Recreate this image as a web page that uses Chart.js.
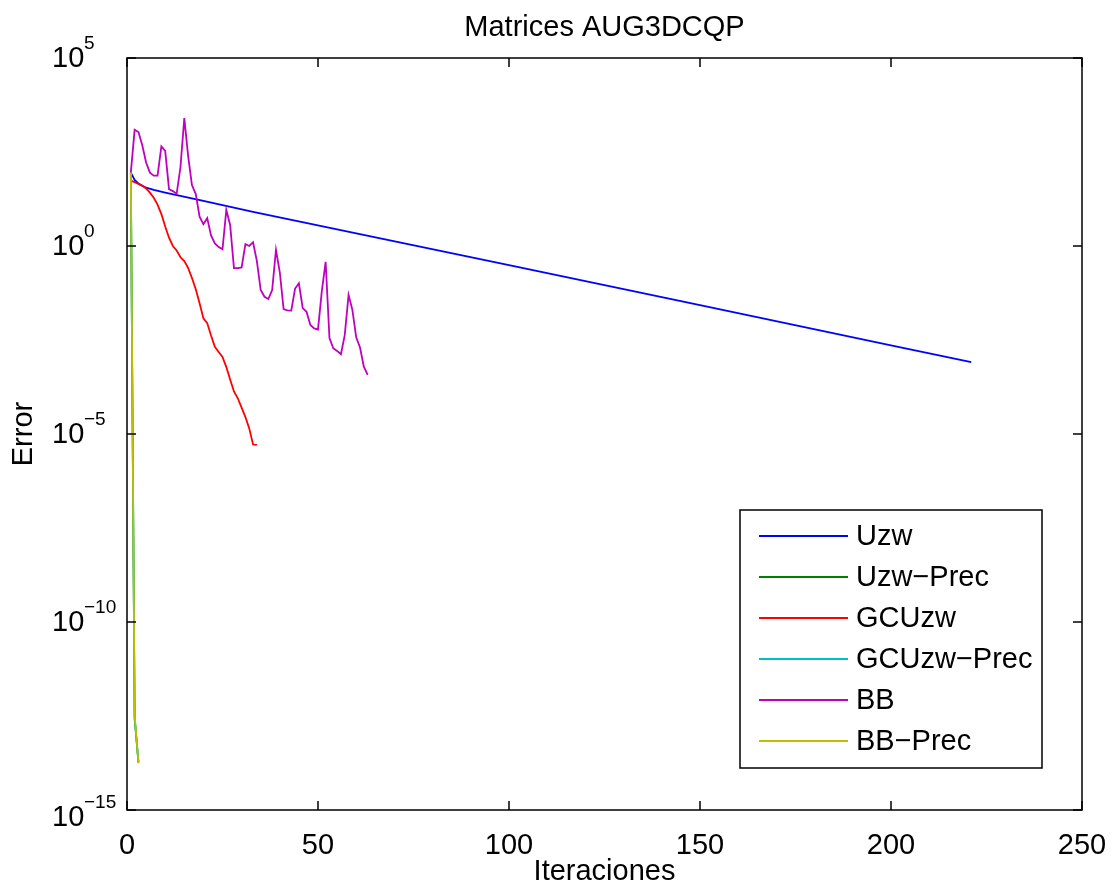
<!DOCTYPE html>
<html>
<head>
<meta charset="utf-8">
<title>Matrices AUG3DCQP</title>
<script src="https://cdn.jsdelivr.net/npm/chart.js@4.4.1/dist/chart.umd.min.js"></script>
<style>
  html, body { margin: 0; padding: 0; background: #fff; }
  #wrap { width: 1112px; height: 890px; }
</style>
</head>
<body>
<div id="wrap"><canvas id="chart" width="1112" height="890"></canvas></div>
<script>
// error per iteration for each solver
const uzwIter = [1, 2, 3, 5, 7, 10, 20, 33, 66, 100, 150, 200, 221];
const uzwErr = [89.1, 57.5, 45.7, 35.5, 30.9, 26.3, 15.8, 8.13, 1.62, 0.309, 0.0269, 2.29e-3, 8.13e-4];

const precIter = [1, 2, 3];
const uzwPrecErr = [89.1, 2.6e-13, 1.9e-14];
const gcPrecErr = [89.1, 3.0e-13, 1.8e-14];
const bbPrecErr = [89.1, 3.4e-13, 1.75e-14];

const gcIter = [1, 2, 3, 4, 5, 6, 7, 8, 9, 10, 11, 12, 13, 14, 15, 16, 17,
  18, 19, 20, 21, 22, 23, 24, 25, 26, 27, 28, 29, 30, 31, 32, 33, 34];
const gcErr = [55.0, 50.1, 44.7, 39.8, 33.9, 26.3, 19.1, 12.6, 7.08, 3.31, 1.66,
  1.0, 0.759, 0.501, 0.398, 0.263, 0.141, 0.0708, 0.0302, 0.0120, 8.91e-3,
  4.17e-3, 2.09e-3, 1.51e-3, 1.12e-3, 6.03e-4, 2.82e-4, 1.35e-4, 8.91e-5,
  5.01e-5, 2.82e-5, 1.41e-5, 5.25e-6, 5.13e-6];

const bbIter = [1, 2, 3, 4, 5, 6, 7, 8, 9, 10, 11, 12, 13, 14, 15, 16, 17, 18,
  19, 20, 21, 22, 23, 24, 25, 26, 27, 28, 29, 30, 31, 32, 33, 34, 35, 36, 37,
  38, 39, 40, 41, 42, 43, 44, 45, 46, 47, 48, 49, 50, 51, 52, 53, 54, 55, 56,
  57, 58, 59, 60, 61, 62, 63];
const bbErr = [89.1, 1230, 1072, 479, 166, 89.1, 74.1, 74.1, 447, 339, 32.4,
  28.8, 24.5, 126, 2512, 251, 41.7, 24.0, 6.03, 3.80, 5.50, 1.91, 1.17, 0.933,
  0.813, 9.12, 3.63, 0.257, 0.257, 0.269, 1.12, 1.0, 1.26, 0.398, 0.0676,
  0.0447, 0.0389, 0.0676, 0.794, 0.200, 0.0209, 0.0195, 0.0191, 0.0741, 0.102,
  0.0224, 0.0178, 7.94e-3, 6.46e-3, 6.03e-3, 0.0631, 0.380, 3.55e-3, 1.91e-3,
  1.62e-3, 1.32e-3, 4.27e-3, 0.0501, 0.0200, 3.72e-3, 2.00e-3, 6.17e-4, 3.72e-4];

const seriesNames = ['Uzw', 'Uzw\u2212Prec', 'GCUzw', 'GCUzw\u2212Prec', 'BB', 'BB\u2212Prec'];
const seriesColors = ['#0000ff', '#008000', '#ff0000', '#00bfbf', '#bf00bf', '#bfbf00'];
const seriesIters = [uzwIter, precIter, gcIter, precIter, bbIter, precIter];
const seriesErrs = [uzwErr, uzwPrecErr, gcErr, gcPrecErr, bbErr, bbPrecErr];

const xTicks = [0, 50, 100, 150, 200, 250];
const yTicks = [1e5, 1, 1e-5, 1e-10, 1e-15];
const yTickExp = ['5', '0', '\u22125', '\u221210', '\u221215'];

const FONT = '"Liberation Sans", Arial, Helvetica, sans-serif';

const datasets = seriesNames.map((name, i) => ({
  label: name,
  data: seriesIters[i].map((it, k) => ({ x: it, y: seriesErrs[i][k] })),
  borderColor: seriesColors[i],
  borderWidth: 1.8,
  pointRadius: 0,
  tension: 0,
  fill: false,
  order: seriesNames.length - i   // later series painted on top
}));

// box, inward ticks, labels, titles and legend in matlab style
const frame = {
  id: 'frame',
  afterDraw(chart) {
    const { ctx, chartArea: a, scales: { x, y } } = chart;
    ctx.save();
    ctx.strokeStyle = '#000';
    ctx.lineWidth = 1.5;
    ctx.strokeRect(a.left, a.top, a.right - a.left, a.bottom - a.top);

    const tk = 9;
    ctx.beginPath();
    xTicks.forEach(v => {
      const px = x.getPixelForValue(v);
      ctx.moveTo(px, a.bottom); ctx.lineTo(px, a.bottom - tk);
      ctx.moveTo(px, a.top); ctx.lineTo(px, a.top + tk);
    });
    yTicks.forEach(v => {
      const py = y.getPixelForValue(v);
      ctx.moveTo(a.left, py); ctx.lineTo(a.left + tk, py);
      ctx.moveTo(a.right, py); ctx.lineTo(a.right - tk, py);
    });
    ctx.stroke();

    ctx.fillStyle = '#000';
    ctx.font = '29px ' + FONT;
    ctx.textAlign = 'center';
    ctx.textBaseline = 'middle';
    xTicks.forEach(v => ctx.fillText(String(v), x.getPixelForValue(v), a.bottom + 36));

    yTicks.forEach((v, i) => {
      let py = y.getPixelForValue(v);
      if (i === yTicks.length - 1) py += 7;
      ctx.font = '29px ' + FONT;
      ctx.textAlign = 'left';
      ctx.fillText('10', 52, py + 1);
      ctx.font = '19px ' + FONT;
      ctx.fillText(yTickExp[i], 84, py - 14);
    });

    ctx.font = '29px ' + FONT;
    ctx.textAlign = 'center';
    const cx = (a.left + a.right) / 2;
    ctx.fillText('Matrices AUG3DCQP', cx, 28);
    ctx.fillText('Iteraciones', cx, a.bottom + 62);
    ctx.save();
    ctx.translate(24, (a.top + a.bottom) / 2);
    ctx.rotate(-Math.PI / 2);
    ctx.fillText('Error', 0, 0);
    ctx.restore();

    // legend box, lower right inside the axes
    const lw = 302, lh = 258;
    const lx = a.right - 40 - lw, ly = a.bottom - 42 - lh;
    ctx.fillStyle = '#fff';
    ctx.fillRect(lx, ly, lw, lh);
    ctx.strokeStyle = '#000';
    ctx.lineWidth = 1.5;
    ctx.strokeRect(lx, ly, lw, lh);
    ctx.textAlign = 'left';
    seriesNames.forEach((name, i) => {
      const ry = ly + 26 + i * 41;
      ctx.strokeStyle = seriesColors[i];
      ctx.lineWidth = 1.8;
      ctx.beginPath();
      ctx.moveTo(lx + 19, ry);
      ctx.lineTo(lx + 108, ry);
      ctx.stroke();
      ctx.fillStyle = '#000';
      ctx.fillText(name, lx + 116, ry + 1);
    });
    ctx.restore();
  }
};

new Chart(document.getElementById('chart'), {
  type: 'line',
  data: { datasets },
  options: {
    responsive: false,
    animation: false,
    layout: { padding: { left: 127, top: 58, right: 30, bottom: 80 } },
    plugins: {
      legend: { display: false },
      title: { display: false },
      tooltip: { enabled: false }
    },
    scales: {
      x: { type: 'linear', display: false, min: 0, max: 250 },
      y: { type: 'logarithmic', display: false, min: 1e-15, max: 1e5 }
    }
  },
  plugins: [frame]
});
</script>
</body>
</html>
